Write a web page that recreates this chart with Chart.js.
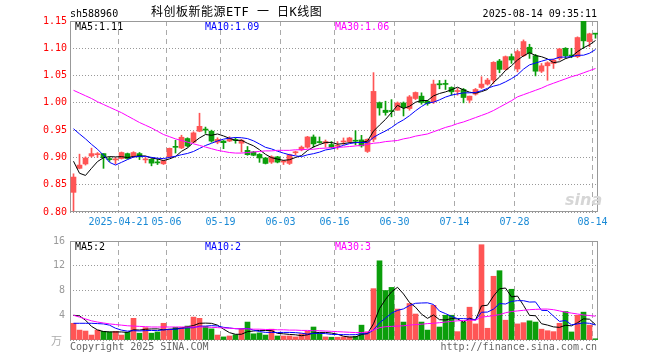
<!DOCTYPE html>
<html>
<head>
<meta charset="utf-8">
<script src="https://cdn.jsdelivr.net/npm/chart.js@4.4.1/dist/chart.umd.min.js"></script>
<style>
  body { margin: 0; background: #fff; }
  #wrap { position: relative; width: 660px; height: 360px; overflow: hidden; font-family: 'DejaVu Sans Mono', monospace; font-size: 10px; }
  canvas { position: absolute; left: 0; }
  .t { position: absolute; white-space: pre; line-height: 10px; }
</style>
</head>
<body>
<div id="wrap">
  <canvas id="kline" width="660" height="236" style="top:0"></canvas>
  <canvas id="vol" width="660" height="130" style="top:230px"></canvas>

  <div class="t" style="left:70px;top:8.5px;color:#000">sh588960</div>
  <div class="t" style="left:151px;top:6px;font-family:'DejaVu Sans Mono','Noto Sans CJK SC';font-size:12px;line-height:12px;color:#000;letter-spacing:0.5px">科创板新能源ETF 一 日K线图</div>
  <div class="t" style="right:63px;top:8.5px;color:#000">2025-08-14 09:35:11</div>

  <div class="t" style="left:75px;top:21.5px;color:#000">MA5:1.11</div>
  <div class="t" style="left:205px;top:21.5px;color:#0000ff">MA10:1.09</div>
  <div class="t" style="left:335px;top:21.5px;color:#ff00ff">MA30:1.06</div>

  <div class="t" style="left:565px;top:192px;font-family:'DejaVu Sans';font-style:italic;font-weight:bold;font-size:16px;line-height:16px;color:#d6d6d6">sina</div>

  <div class="t" style="left:75px;top:241.5px;color:#000">MA5:2</div>
  <div class="t" style="left:205px;top:241.5px;color:#0000ff">MA10:2</div>
  <div class="t" style="left:335px;top:241.5px;color:#ff00ff">MA30:3</div>

  <div class="t" style="left:51px;top:335px;font-family:'Noto Sans CJK SC';font-size:11px;line-height:11px;color:#aaa">万</div>
  <div class="t" style="left:70px;top:341.5px;color:#666">Copyright 2025 SINA.COM</div>
  <div class="t" style="right:63px;top:341.5px;color:#666">http://finance.sina.com.cn</div>
</div>

<script>
const dates = [
  '2025-04-09','2025-04-10','2025-04-11','2025-04-14','2025-04-15','2025-04-16','2025-04-17','2025-04-18',
  '2025-04-21','2025-04-22','2025-04-23','2025-04-24','2025-04-25','2025-04-28','2025-04-29','2025-04-30',
  '2025-05-06','2025-05-07','2025-05-08','2025-05-09','2025-05-12','2025-05-13','2025-05-14','2025-05-15','2025-05-16',
  '2025-05-19','2025-05-20','2025-05-21','2025-05-22','2025-05-23','2025-05-26','2025-05-27','2025-05-28','2025-05-29','2025-05-30',
  '2025-06-03','2025-06-04','2025-06-05','2025-06-06','2025-06-09','2025-06-10','2025-06-11','2025-06-12','2025-06-13',
  '2025-06-16','2025-06-17','2025-06-18','2025-06-19','2025-06-20','2025-06-23','2025-06-24','2025-06-25','2025-06-26','2025-06-27',
  '2025-06-30','2025-07-01','2025-07-02','2025-07-03','2025-07-04','2025-07-07','2025-07-08','2025-07-09','2025-07-10','2025-07-11',
  '2025-07-14','2025-07-15','2025-07-16','2025-07-17','2025-07-18','2025-07-21','2025-07-22','2025-07-23','2025-07-24','2025-07-25',
  '2025-07-28','2025-07-29','2025-07-30','2025-07-31','2025-08-01','2025-08-04','2025-08-05','2025-08-06','2025-08-07','2025-08-08',
  '2025-08-11','2025-08-12','2025-08-13','2025-08-14'
];
const tickDates = ['2025-04-21','2025-05-06','2025-05-19','2025-06-03','2025-06-16','2025-06-30','2025-07-14','2025-07-28','2025-08-14'];
const tickLabels = ['2025-04-21','05-06','05-19','06-03','06-16','06-30','07-14','07-28','08-14'];
const priceTicks = [0.80, 0.85, 0.90, 0.95, 1.00, 1.05, 1.10, 1.15];
const volTicks = [0, 4, 8, 12, 16];

const openP = [
  0.836,0.880,0.888,0.9025,0.905,0.907,0.8965,0.8955,0.898,0.907,
  0.902,0.907,0.8955,0.8965,0.8905,0.8883,0.9006,0.9197,0.9173,0.9346,
  0.928,0.948,0.952,0.948,0.928,0.930,0.930,0.932,0.926,0.913,
  0.910,0.9056,0.899,0.8914,0.901,0.8915,0.889,0.9085,0.914,0.9188,
  0.9375,0.9284,0.926,0.9236,0.9206,0.9284,0.929,0.9309,0.9321,0.911,
  0.9333,1.0004,0.9865,0.9853,0.9865,0.9998,0.9896,1.008,1.0123,1.003,
  1.0018,1.0350,1.0344,1.0282,1.0208,1.0245,1.0049,1.016,1.0282,1.0344,
  1.0417,1.0767,1.0613,1.0847,1.062,1.0864,1.1019,1.0864,1.058,1.0679,
  1.0722,1.0815,1.100,1.0870,1.0846,1.1524,1.1123,1.1265
];
const highP = [
  0.870,0.906,0.901,0.917,0.909,0.907,0.9006,0.900,0.910,0.908,
  0.9105,0.909,0.900,0.8975,0.8969,0.895,0.9173,0.9315,0.9407,0.936,
  0.947,0.981,0.9556,0.950,0.936,0.931,0.938,0.936,0.933,0.920,
  0.911,0.907,0.900,0.903,0.902,0.895,0.906,0.9115,0.921,0.9387,
  0.9412,0.9375,0.932,0.929,0.929,0.9357,0.937,0.949,0.9405,0.934,
  1.0554,1.0016,1.003,1.0059,1.0016,1.0016,1.0135,1.020,1.0184,1.0049,
  1.0417,1.0411,1.0417,1.0294,1.0264,1.0264,1.0123,1.0264,1.0479,1.0448,
  1.0755,1.0797,1.0859,1.0896,1.0969,1.1154,1.1074,1.0889,1.0722,1.0753,
  1.0802,1.100,1.1012,1.100,1.121,1.155,1.1277,1.1265
];
const lowP = [
  0.802,0.879,0.886,0.9006,0.900,0.880,0.8926,0.888,0.897,0.897,
  0.900,0.896,0.890,0.8846,0.887,0.887,0.8994,0.908,0.916,0.919,
  0.927,0.947,0.944,0.928,0.925,0.916,0.929,0.926,0.910,0.904,
  0.903,0.891,0.888,0.889,0.890,0.887,0.887,0.905,0.912,0.917,
  0.9188,0.926,0.9188,0.917,0.915,0.924,0.927,0.923,0.9188,0.9091,
  0.929,0.9774,0.9774,0.9744,0.9865,0.976,0.9865,1.006,0.9975,0.9957,
  0.9988,1.0258,1.0245,1.0141,1.0141,1.000,1.000,1.0141,1.0264,1.0325,
  1.0355,1.0552,1.0601,1.0724,1.0568,1.0846,1.0815,1.0494,1.0555,1.0414,
  1.063,1.0784,1.0815,1.0827,1.0827,1.100,1.103,1.1185
];
const closeP = [
  0.864,0.886,0.899,0.907,0.906,0.8995,0.896,0.8965,0.909,0.898,
  0.909,0.901,0.8965,0.8895,0.890,0.8938,0.9167,0.9185,0.937,0.921,
  0.945,0.957,0.950,0.930,0.933,0.927,0.935,0.931,0.9315,0.905,
  0.904,0.899,0.889,0.901,0.8914,0.8925,0.905,0.9097,0.9188,0.9375,
  0.9248,0.9272,0.929,0.9188,0.9218,0.9296,0.9357,0.9297,0.9212,0.9333,
  1.021,0.9907,0.9823,0.9841,0.9998,0.9914,1.011,1.019,1.0006,0.9988,
  1.0344,1.0331,1.0338,1.0202,1.0221,1.0098,1.0123,1.0245,1.0344,1.0417,
  1.0742,1.0613,1.0847,1.0785,1.094,1.1123,1.0907,1.058,1.0679,1.0735,
  1.0784,1.0988,1.0864,1.0858,1.1197,1.1136,1.1265,1.1259
];
const ma5 = [
  0.893,0.871,0.867,0.880,0.8924,0.8995,0.9015,0.901,0.9014,0.8998,
  0.9017,0.9027,0.9027,0.8988,0.8972,0.8942,0.8973,0.9017,0.9112,0.9174,
  0.9276,0.9357,0.942,0.9406,0.943,0.9394,0.935,0.9312,0.9315,0.9259,
  0.9213,0.9141,0.9057,0.8996,0.8969,0.8946,0.8958,0.8999,0.9035,0.9127,
  0.9192,0.9236,0.9275,0.9275,0.9243,0.9253,0.927,0.9271,0.9276,0.9299,
  0.9482,0.9592,0.9697,0.9823,0.9956,0.9897,0.9937,1.0011,1.0044,1.0042,
  1.0128,1.0172,1.0201,1.0241,1.0287,1.0238,1.0196,1.0178,1.0206,1.0245,
  1.0374,1.0472,1.0593,1.0681,1.0785,1.0862,1.092,1.0867,1.0846,1.0805,
  1.0737,1.0753,1.081,1.0846,1.0938,1.1009,1.1064,1.1143
];
const ma10 = [
  0.9525,0.943,0.934,0.924,0.915,0.904,0.891,0.886,0.891,0.8961,
  0.9006,0.9021,0.9019,0.9001,0.8985,0.8979,0.900,0.9022,0.905,0.9073,
  0.9109,0.9165,0.9219,0.9259,0.9302,0.9335,0.9354,0.9366,0.9361,0.9345,
  0.9304,0.9246,0.9185,0.9156,0.9114,0.9079,0.9049,0.9028,0.9015,0.9048,
  0.9069,0.9097,0.9137,0.9155,0.9185,0.9222,0.9253,0.9273,0.9275,0.9271,
  0.9367,0.9431,0.9484,0.9549,0.9627,0.9689,0.9765,0.9854,0.9933,0.9999,
  1.0012,1.0055,1.0106,1.0142,1.0164,1.0183,1.0184,1.019,1.0223,1.0266,
  1.0306,1.0334,1.0385,1.0444,1.0515,1.0618,1.0696,1.073,1.0763,1.0795,
  1.0799,1.0837,1.0839,1.0846,1.0872,1.0873,1.0909,1.0977
];
const ma30 = [
  1.023,1.018,1.013,1.008,1.002,0.997,0.992,0.987,0.982,0.976,
  0.970,0.964,0.959,0.954,0.948,0.942,0.938,0.934,0.931,0.928,
  0.925,0.922,0.919,0.916,0.913,0.911,0.909,0.908,0.908,0.909,
  0.910,0.911,0.912,0.912,0.913,0.913,0.913,0.914,0.914,0.915,
  0.915,0.9165,0.917,0.918,0.9185,0.919,0.920,0.921,0.922,0.924,
  0.926,0.927,0.929,0.930,0.931,0.934,0.936,0.939,0.941,0.943,
  0.947,0.951,0.955,0.958,0.962,0.965,0.969,0.973,0.977,0.981,
  0.986,0.992,0.998,1.004,1.011,1.015,1.019,1.023,1.027,1.032,
  1.036,1.040,1.044,1.048,1.051,1.055,1.059,1.063
];

const volume = [
  2.7,1.6,1.45,0.8,1.6,1.4,1.3,1.4,0.8,1.25,
  3.5,1.1,2.0,1.1,1.3,2.7,1.7,2.05,2.0,2.25,
  3.7,3.5,2.2,1.8,0.8,0.5,0.65,0.85,1.85,2.9,
  1.0,1.15,0.8,1.75,0.65,0.65,0.65,0.5,1.0,1.4,
  2.1,1.15,0.5,0.45,0.45,0.5,0.5,0.6,2.4,1.3,
  8.3,12.8,8.0,8.5,5.0,2.9,5.9,4.2,2.9,1.6,
  5.6,2.1,4.0,4.0,1.35,2.9,5.3,2.6,15.4,1.9,
  10.3,11.2,3.2,8.2,2.6,2.8,3.1,2.9,1.75,1.5,
  1.35,2.7,4.6,1.3,4.0,4.5,2.4,0.2
];
const vma5 = [
  4.0,3.9,3.2,2.2,1.63,1.37,1.31,1.30,1.30,1.23,
  1.65,1.61,1.73,1.79,1.80,1.64,1.76,1.77,1.95,2.14,
  2.34,2.70,2.73,2.69,2.40,1.76,1.19,0.92,0.93,1.35,
  1.45,1.55,1.54,1.52,1.07,1.00,0.90,0.84,0.69,0.84,
  1.13,1.23,1.23,1.12,0.93,0.61,0.48,0.50,0.89,1.06,
  2.62,5.08,6.56,7.78,8.52,7.44,6.06,5.30,4.18,3.50,
  4.04,3.28,3.24,3.46,3.41,2.87,3.51,3.23,5.51,5.62,
  7.10,8.28,8.40,6.96,7.10,5.60,3.98,3.92,2.63,2.41,
  2.12,2.04,2.38,2.29,2.79,3.42,3.36,2.48
];
const vma10 = [
  2.7,2.7,2.7,2.7,2.65,2.6,2.4,1.9,1.6,1.43,
  1.51,1.46,1.515,1.545,1.515,1.645,1.685,1.75,1.87,1.97,
  1.99,2.23,2.25,2.32,2.27,2.05,1.945,1.825,1.81,1.875,
  1.605,1.37,1.23,1.225,1.21,1.225,1.225,1.19,1.105,0.955,
  1.065,1.065,1.035,0.905,0.885,0.87,0.855,0.865,1.005,0.995,
  1.615,2.78,3.53,4.335,4.79,5.03,5.57,5.93,5.98,6.01,
  5.74,4.67,4.27,3.82,3.455,3.455,3.395,3.235,4.485,4.515,
  4.985,5.895,5.815,6.235,6.36,6.35,6.13,6.16,4.795,4.755,
  3.86,3.01,3.15,2.46,2.60,2.77,2.70,2.43
];
const vma30 = [
  4.0,3.7,3.4,3.1,2.9,2.75,2.6,2.5,2.4,2.3,
  2.25,2.2,2.15,2.1,2.1,2.1,2.1,2.1,2.1,2.1,
  2.1,2.1,2.1,2.05,2.0,1.95,1.9,1.85,1.8,1.8,
  1.75,1.75,1.7,1.7,1.65,1.65,1.6,1.6,1.55,1.55,
  1.5,1.5,1.45,1.4,1.35,1.3,1.25,1.2,1.2,1.3,
  1.6,2.0,2.15,2.2,2.25,2.3,2.4,2.5,2.55,2.65,
  2.7,2.8,2.9,3.0,3.1,3.15,3.2,3.2,3.7,3.8,
  3.95,4.1,4.4,4.6,4.7,4.8,4.9,4.95,5.0,5.0,
  4.9,4.7,4.5,4.35,4.2,4.05,3.95,3.85
];

const UP = '#ff5555';
const DOWN = '#0b9e0b';
const candleColors = closeP.map((c, i) => (c >= openP[i] ? UP : DOWN));
const xy = arr => arr.map((v, i) => ({ x: i, y: v }));

Chart.defaults.font.family = "'DejaVu Sans Mono', monospace";
Chart.defaults.font.size = 10;
Chart.defaults.animation = false;

// frame round the plot area
const framePlugin = {
  id: 'frame',
  beforeDatasetsDraw(chart) {
    const a = chart.chartArea, ctx = chart.ctx;
    ctx.save();
    ctx.strokeStyle = '#999';
    ctx.lineWidth = 1;
    ctx.strokeRect(a.left + 0.5, a.top + 0.5, a.right - a.left - 1, a.bottom - a.top - 1);
    ctx.restore();
  }
};

function xScale(showLabels) {
  return {
    type: 'linear',
    min: -0.5 - 0.5 / 6,
    max: dates.length - 0.5 - 0.5 / 6,
    offset: false,
    grid: { offset: false, color: '#aaaaaa', drawTicks: false },
    border: { display: false, dash: [5, 4] },
    afterBuildTicks: s => { s.ticks = tickDates.map(d => ({ value: dates.indexOf(d) - 0.5 })); },
    ticks: {
      display: showLabels, autoSkip: false, maxRotation: 0, minRotation: 0,
      color: '#1a8ad6', padding: 4,
      callback: (v, i) => tickLabels[i]
    },
    afterFit: s => { s.height = showLabels ? 24 : 0; }
  };
}

function maLine(arr, color) {
  return { type: 'line', data: xy(arr), borderColor: color, borderWidth: 1, pointRadius: 0, tension: 0, order: 0 };
}

new Chart(document.getElementById('kline'), {
  type: 'bar',
  data: {
    datasets: [
      maLine(ma30, '#ff00ff'),
      maLine(ma10, '#0000ff'),
      maLine(ma5, '#000000'),
      {
        type: 'bar', data: closeP.map((c, i) => ({ x: i, y: [openP[i], c] })),
        backgroundColor: candleColors, barThickness: 5, minBarLength: 1, grouped: false, order: 1
      },
      {
        type: 'bar', data: closeP.map((c, i) => ({ x: i, y: [lowP[i], highP[i]] })),
        backgroundColor: candleColors, barThickness: 1, grouped: false, order: 2
      }
    ]
  },
  options: {
    responsive: false,
    devicePixelRatio: 1,
    layout: { padding: { top: 21, right: 62, left: 0, bottom: 0 } },
    plugins: { legend: { display: false }, tooltip: { enabled: false } },
    scales: {
      x: xScale(true),
      y: {
        type: 'linear', min: 0.8, max: 1.15,
        afterBuildTicks: s => { s.ticks = priceTicks.map(v => ({ value: v })); },
        grid: { color: '#999999', drawTicks: false },
        border: { display: false, dash: [1, 2] },
        ticks: { color: '#ff0000', padding: 3, callback: v => v.toFixed(2) },
        afterFit: s => { s.width = 70; }
      }
    }
  },
  plugins: [framePlugin]
});

new Chart(document.getElementById('vol'), {
  type: 'bar',
  data: {
    datasets: [
      maLine(vma30, '#ff00ff'),
      maLine(vma10, '#0000ff'),
      maLine(vma5, '#000000'),
      {
        type: 'bar', data: xy(volume),
        backgroundColor: candleColors, barThickness: 5, grouped: false, order: 1
      }
    ]
  },
  options: {
    responsive: false,
    devicePixelRatio: 1,
    layout: { padding: { top: 10, right: 62, left: 0, bottom: 20 } },
    plugins: { legend: { display: false }, tooltip: { enabled: false } },
    scales: {
      x: xScale(false),
      y: {
        type: 'linear', min: 0, max: 16,
        afterBuildTicks: s => { s.ticks = volTicks.map(v => ({ value: v })); },
        grid: { color: '#999999', drawTicks: false },
        border: { display: false, dash: [1, 2] },
        ticks: { color: '#999999', padding: 5, callback: v => (v === 0 ? '' : String(v)) },
        afterFit: s => { s.width = 70; }
      }
    }
  },
  plugins: [framePlugin]
});
</script>
</body>
</html>
